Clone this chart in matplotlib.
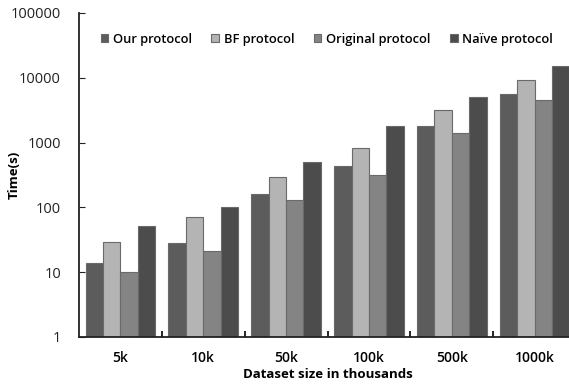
import numpy as np
import matplotlib.pyplot as plt

sizes = ['5k', '10k', '50k', '100k', '500k', '1000k']
ours = [13, 27, 160, 430, 1800, 5700]
bf = [28, 70, 290, 830, 3200, 9300]
original = [9, 20, 130, 310, 1400, 4600]
naive = [50, 100, 500, 1800, 5000, 15000]

series = [('Our protocol', ours, '#5c5c5c'),
          ('BF protocol', bf, '#b4b4b4'),
          ('Original protocol', original, '#848484'),
          ('Naïve protocol', naive, '#4c4c4c')]

plt.rcParams['font.family'] = ['Open Sans', 'DejaVu Sans']

fig = plt.figure(figsize=(5.69, 3.88), dpi=100)
ax = fig.add_axes([79/569, 51/388, 497/569, 324/388])

x = np.arange(len(sizes))
w = 0.21
for i, (name, vals, col) in enumerate(series):
    ax.bar(x + (i - 1.5) * w, vals, w, bottom=1, color=col, edgecolor='#6a6a6a',
           linewidth=0.8, label=name)

ax.set_yscale('log')
ax.set_ylim(1, 100000)
ax.set_xlim(-0.5, len(sizes) - 0.5)
ax.set_yticks([1, 10, 100, 1000, 10000, 100000])
ax.set_yticklabels(['1', '10', '100', '1000', '10000', '100000'])
ax.yaxis.set_minor_locator(plt.NullLocator())
ax.tick_params(axis='y', direction='in', length=4, labelsize=10.5, pad=13, colors='#222222')

ax.set_xticks(x)
ax.set_xticklabels(sizes, fontsize=10, fontweight='semibold')
ax.tick_params(axis='x', length=0, pad=10)
ax.set_xticks(np.arange(len(sizes) - 1) + 0.5, minor=True)
ax.tick_params(axis='x', which='minor', direction='in', length=4, width=1.2)

for s in ['top', 'right']:
    ax.spines[s].set_visible(False)
for s in ['left', 'bottom']:
    ax.spines[s].set_linewidth(1.3)
    ax.spines[s].set_color('#222222')

ax.set_xlabel('Dataset size in thousands', fontsize=9.5, fontweight='bold', labelpad=2)
ax.set_ylabel('Time(s)', fontsize=9.5, fontweight='bold')
ax.yaxis.set_label_coords(-58/497, 0.5)

ax.legend(loc='upper left', bbox_to_anchor=(0.02, 0.975), ncol=4, frameon=False,
          handlelength=0.6, handleheight=0.6, handletextpad=0.35, columnspacing=1.5,
          prop={'size': 9.3, 'weight': 'semibold'})

fig.savefig('out.png', dpi=100)
